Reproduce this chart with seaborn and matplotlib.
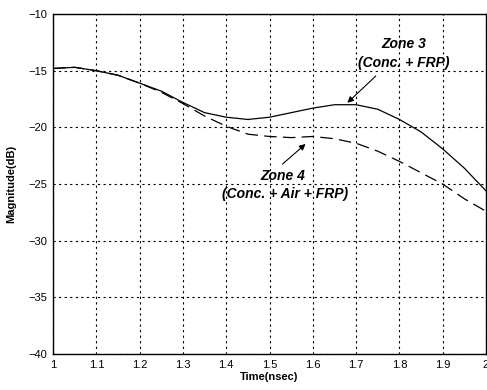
import numpy as np
import pandas as pd
import matplotlib
matplotlib.use("Agg")
import matplotlib.pyplot as plt
import seaborn as sns

# tiempos (nsec) y magnitudes (dB)
t = [1.00, 1.05, 1.10, 1.15, 1.20, 1.25, 1.30, 1.35, 1.40, 1.45, 1.50,
     1.55, 1.60, 1.65, 1.70, 1.75, 1.80, 1.85, 1.90, 1.95, 2.00]
zone3 = [-14.8, -14.7, -15.0, -15.4, -16.1, -16.8, -17.8, -18.7, -19.1, -19.3, -19.1,
         -18.7, -18.3, -18.0, -18.0, -18.4, -19.3, -20.4, -21.9, -23.6, -25.6]
zone4 = [-14.8, -14.7, -15.0, -15.4, -16.1, -16.9, -17.9, -19.0, -19.9, -20.6, -20.8,
         -20.9, -20.8, -21.0, -21.4, -22.1, -23.0, -24.0, -25.0, -26.3, -27.4]

x_ticks = [1, 1.1, 1.2, 1.3, 1.4, 1.5, 1.6, 1.7, 1.8, 1.9, 2]
x_labels = ["1", "1.1", "1.2", "1.3", "1.4", "1.5", "1.6", "1.7", "1.8", "1.9", "2"]
y_ticks = [-40, -35, -30, -25, -20, -15, -10]

df = pd.DataFrame({"t": t, "zone3": zone3, "zone4": zone4})

sns.set_style("white")
plt.rcParams["font.family"] = ["Liberation Sans", "DejaVu Sans"]
plt.rcParams["text.color"] = "black"
plt.rcParams["axes.labelcolor"] = "black"

fig = plt.figure(figsize=(4.87, 3.90), dpi=100)
ax = fig.add_axes([0.109, 0.092, 0.889, 0.872])

sns.lineplot(data=df, x="t", y="zone3", color="black", linewidth=0.9, ax=ax)
sns.lineplot(data=df, x="t", y="zone4", color="black", linewidth=0.9, ax=ax,
             linestyle=(0, (10, 5)))

ax.set_xlim(1, 2)
ax.set_ylim(-40, -10)
ax.set_xticks(x_ticks)
ax.set_xticklabels(x_labels)
ax.set_yticks(y_ticks)
ax.grid(True, color="black", linestyle=(0, (2, 3)), linewidth=0.8)
ax.tick_params(direction="in", length=3, labelsize=8, colors="black", pad=4)
for s in ax.spines.values():
    s.set_color("black")
    s.set_linewidth(1.0)

ax.set_xlabel("Time(nsec)", fontsize=8, fontweight="bold", labelpad=2)
ax.set_ylabel("Magnitude(dB)", fontsize=8, fontweight="bold", labelpad=9)

# anotaciones
ax.text(1.81, -12.6, "Zone 3", fontsize=10, style="italic", fontweight="bold", ha="center", va="center")
ax.text(1.81, -14.3, "(Conc. + FRP)", fontsize=10, style="italic", fontweight="bold", ha="center", va="center")
ax.annotate("", xy=(1.675, -18.0), xytext=(1.75, -15.3),
            arrowprops=dict(arrowstyle="-|>", color="black", lw=0.8, mutation_scale=9))

ax.text(1.53, -24.3, "Zone 4", fontsize=10, style="italic", fontweight="bold", ha="center", va="center")
ax.text(1.535, -25.9, "(Conc. + Air + FRP)", fontsize=10, style="italic", fontweight="bold", ha="center", va="center")
ax.annotate("", xy=(1.588, -21.3), xytext=(1.525, -23.4),
            arrowprops=dict(arrowstyle="-|>", color="black", lw=0.8, mutation_scale=9))

fig.savefig("out.png", dpi=100)
